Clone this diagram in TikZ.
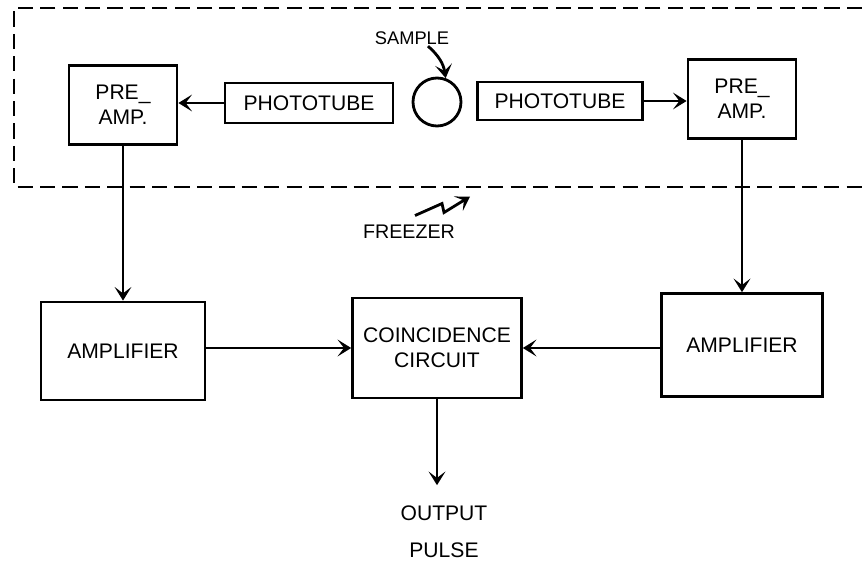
\documentclass[tikz,border=0pt]{standalone}
\usepackage{fontspec}
\setmainfont{Liberation Sans}
\usepackage{tikz}
\usetikzlibrary{arrows.meta,positioning,calc}
\tikzset{
  box/.style={draw,line width=2pt,align=center,font=\fontsize{15}{18}\selectfont,inner sep=2pt},
  arr/.style={-{Stealth[length=3.4mm,width=4.2mm,inset=1.6mm]},line width=2pt},
  lbl/.style={font=\fontsize{13}{15}\selectfont,inner sep=1pt}
}
\begin{document}
\begin{tikzpicture}[x=0.025cm,y=-0.025cm,
 pre/.style={box,minimum width=2.7cm,minimum height=1.98cm},
 tube/.style={box,minimum width=4.2cm,minimum height=1.0cm},
 amp/.style={box,minimum width=4.1cm,minimum height=2.45cm}]
\useasboundingbox (0,0) rectangle (862,563);
% freezer enclosure, open to the right
\draw[line width=2pt,dash pattern=on 0.38cm off 0.18cm] (862,8) -- (14,8) -- (14,187) -- (862,187);
\node[pre] (lpre) at (123,105) {PRE\_\\AMP.};
\node[tube] (ltube) at (309,103) {PHOTOTUBE};
\node[draw,circle,line width=2pt,minimum size=1.2cm,inner sep=0pt] (smp) at (437,102) {};
\node[lbl] (smplbl) at (412,38) {SAMPLE};
\node[tube,minimum width=4.12cm,minimum height=0.95cm] (rtube) at (560,101) {PHOTOTUBE};
\node[pre] (rpre) at (742,99) {PRE\_\\AMP.};
\node[lbl,font=\fontsize{14}{16}\selectfont] (frz) at (409,232) {FREEZER};
\node[amp] (lamp) at (123,351) {AMPLIFIER};
\node[amp,minimum width=4.22cm,minimum height=2.5cm] (coin) at (437,348) {COINCIDENCE\\CIRCUIT};
\node[amp,minimum width=4.02cm,minimum height=2.57cm] (ramp) at (742,345) {AMPLIFIER};
\node[box,draw=none,font=\fontsize{15}{26}\selectfont] (out) at (444,532) {OUTPUT\\PULSE};
\draw[arr] (ltube.west) -- (ltube.west -| lpre.east);
\draw[arr] (rtube.east) -- (rtube.east -| rpre.west);
\draw[arr] (smplbl.south) ++(16,0) to[bend left=20] (smp.70);
\draw[arr] ($(frz.north)+(6,-8)$) -- ++(27,-12) -- ++(2,9) -- ++(26,-16);
\draw[arr] (lpre) -- (lpre |- lamp.north);
\draw[arr] (rpre) -- (rpre |- ramp.north);
\draw[arr] (coin.west -| lamp.east) -- (coin.west);
\draw[arr] (coin.east -| ramp.west) -- (coin.east);
\draw[arr,shorten >=12pt] (coin.south) -- (coin.south |- out.north);
\end{tikzpicture}
\end{document}
